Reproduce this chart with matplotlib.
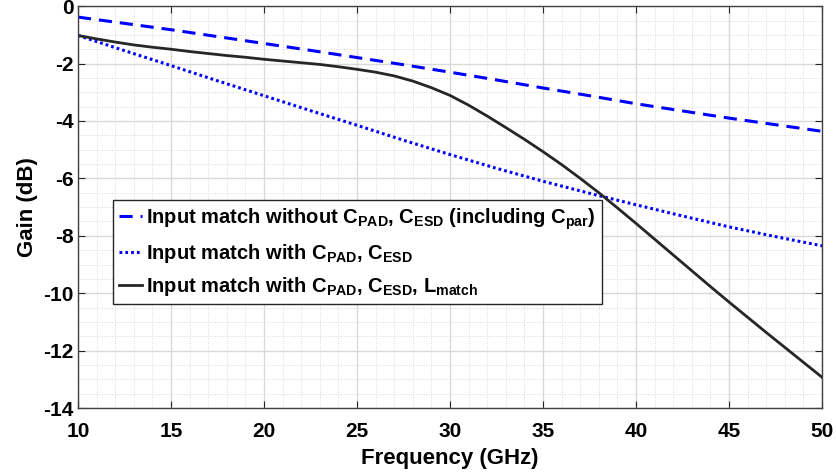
import matplotlib
matplotlib.use('Agg')
import matplotlib.pyplot as plt
from matplotlib.ticker import MultipleLocator

plt.rcParams['font.family'] = ['Liberation Sans', 'DejaVu Sans']
plt.rcParams['font.weight'] = 'bold'
plt.rcParams['axes.unicode_minus'] = False
plt.rcParams['mathtext.fontset'] = 'custom'
plt.rcParams['mathtext.rm'] = 'Liberation Sans:bold'
plt.rcParams['mathtext.it'] = 'Liberation Sans:bold'
plt.rcParams['mathtext.bf'] = 'Liberation Sans:bold'
plt.rcParams['mathtext.default'] = 'bf'

# frequency points (GHz)
freq = [10, 12.5, 15, 17.5, 20, 22.5, 25, 27.5, 30, 32.5, 35, 37.5, 40, 42.5, 45, 47.5, 50]
freq_fine = list(range(10, 51))

# gain (dB)
gain_no_pad = [-0.38, -0.6, -0.82, -1.06, -1.3, -1.54, -1.79, -2.04, -2.3, -2.57, -2.85,
               -3.12, -3.4, -3.65, -3.9, -4.13, -4.36]
gain_pad = [-1.02, -1.55, -2.07, -2.6, -3.12, -3.64, -4.15, -4.67, -5.17, -5.65, -6.1,
            -6.52, -6.92, -7.31, -7.69, -8.03, -8.35]
gain_match = [-1.02, -1.14, -1.25, -1.35, -1.43, -1.5, -1.58, -1.65, -1.72, -1.78,
              -1.85, -1.91, -1.97, -2.03, -2.11, -2.2, -2.3, -2.43, -2.61, -2.84,
              -3.11, -3.45, -3.83, -4.23, -4.64, -5.07, -5.52, -6.0, -6.5, -7.03,
              -7.57, -8.12, -8.67, -9.22, -9.77, -10.31, -10.84, -11.37, -11.89, -12.41,
              -12.93]

labels = [r'Input match without C$_{PAD}$, C$_{ESD}$ (including C$_{par}$)',
          r'Input match with C$_{PAD}$, C$_{ESD}$',
          r'Input match with C$_{PAD}$, C$_{ESD}$, L$_{match}$']

fig = plt.figure(figsize=(8.37, 4.75), dpi=100)
ax = fig.add_axes([0.0932, 0.141, 0.889, 0.846])

ax.plot(freq, gain_no_pad, color='#0000ff', lw=2.2, linestyle=(0, (4.3, 2.6)), label=labels[0])
ax.plot(freq, gain_pad, color='#0000ff', lw=2.2, linestyle=(0, (0.9, 1.0)), label=labels[1])
ax.plot(freq_fine, gain_match, color='#262626', lw=2.0, label=labels[2])

ax.set_xlim(10, 50)
ax.set_ylim(-14, 0)
ax.xaxis.set_major_locator(MultipleLocator(5))
ax.xaxis.set_minor_locator(MultipleLocator(1))
ax.yaxis.set_major_locator(MultipleLocator(2))
ax.yaxis.set_minor_locator(MultipleLocator(0.5))

ax.grid(which='major', color='#d9d9d9', lw=1.0, ls='-')
ax.grid(which='minor', color='#d9d9d9', lw=0.7, ls=':')
ax.set_axisbelow(True)

ax.tick_params(which='major', direction='in', top=True, right=True, length=5,
               labelsize=15, color='#262626')
ax.tick_params(axis='x', which='major', pad=10)
ax.tick_params(axis='y', which='major', pad=3)
ax.tick_params(which='minor', length=0)
for s in ax.spines.values():
    s.set_color('#404040')
    s.set_linewidth(1.0)

ax.set_xlabel('Frequency (GHz)', fontsize=16, fontweight='bold', labelpad=5)
ax.set_ylabel('Gain (dB)', fontsize=16, fontweight='bold', labelpad=4)

leg = ax.legend(loc='upper left', bbox_to_anchor=(0.047, 0.517), fontsize=14.5,
                handlelength=1.15, handletextpad=0.2, borderpad=0.3, labelspacing=0.5,
                fancybox=False, framealpha=1, edgecolor='#262626', borderaxespad=0)
leg.get_frame().set_linewidth(1.0)

fig.savefig('out.png', dpi=100)
